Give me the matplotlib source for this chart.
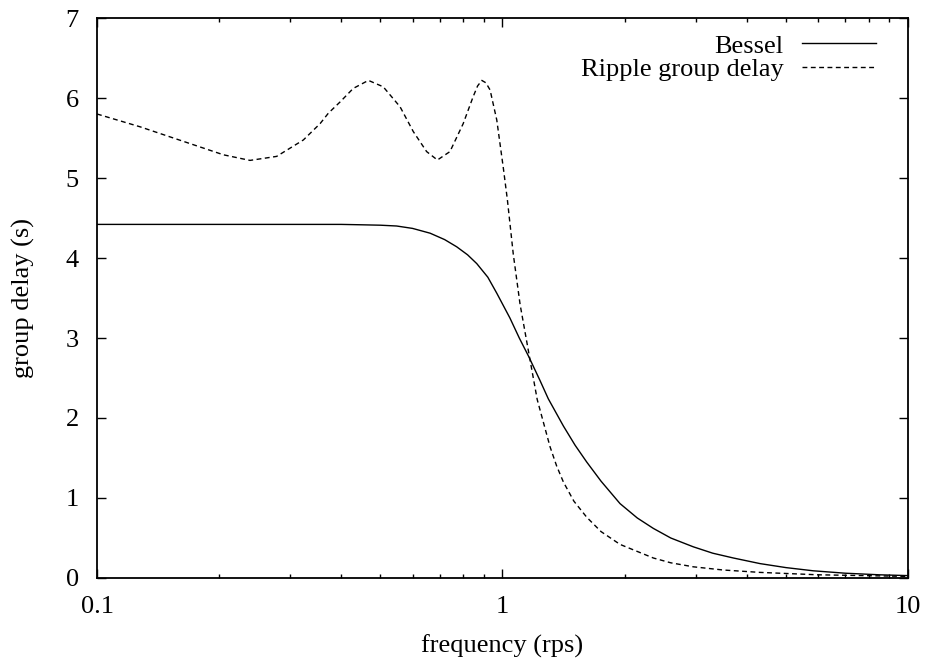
import matplotlib
matplotlib.use("Agg")
import matplotlib.pyplot as plt
from matplotlib.ticker import LogLocator, FixedLocator, NullFormatter

# values
BESSEL_FREQ = [0.1, 0.2, 0.3, 0.4, 0.45, 0.5, 0.548, 0.6, 0.663, 0.72,
               0.771, 0.82, 0.864, 0.92, 0.968, 1.043, 1.10, 1.16, 1.237,
               1.297, 1.413, 1.51, 1.613, 1.75, 1.949, 2.15, 2.355,
               2.6, 2.954, 3.3, 3.71, 4.316, 5.0, 5.84, 7.0, 8.5, 10.0]
BESSEL_DELAY = [4.42, 4.42, 4.42, 4.42, 4.415, 4.41, 4.40, 4.37, 4.31, 4.23,
                4.14, 4.04, 3.93, 3.76, 3.56, 3.25, 3.00, 2.77, 2.47,
                2.24, 1.90, 1.66, 1.45, 1.21, 0.93, 0.75, 0.62,
                0.50, 0.39, 0.31, 0.25, 0.18, 0.13, 0.09, 0.06, 0.04, 0.03]

RIPPLE_FREQ = [0.1, 0.1277, 0.1696, 0.205, 0.2384, 0.2773, 0.3227, 0.355,
               0.372, 0.3975, 0.4285, 0.467, 0.508, 0.559, 0.6026, 0.65,
               0.691, 0.742, 0.80, 0.847, 0.868, 0.889, 0.91, 0.932, 0.968,
               1.005, 1.028, 1.063, 1.105, 1.165, 1.218, 1.31, 1.36, 1.413,
               1.5, 1.613, 1.75, 1.949, 2.355, 2.6, 2.954, 3.5, 4.316, 6.0,
               10.0]
RIPPLE_DELAY = [5.80, 5.64, 5.43, 5.29, 5.22, 5.27, 5.475, 5.68,
                5.81, 5.95, 6.12, 6.22, 6.14, 5.89, 5.58, 5.33,
                5.225, 5.33, 5.68, 6.02, 6.15, 6.22, 6.19, 6.10, 5.725,
                5.12, 4.73, 4.05, 3.42, 2.77, 2.23, 1.64, 1.40, 1.20,
                0.96, 0.76, 0.58, 0.42, 0.25, 0.19, 0.14, 0.10, 0.07, 0.04,
                0.02]

X_TICKS = [0.1, 1, 10]
X_LABELS = ["0.1", "1", "10"]
Y_TICKS = [0, 1, 2, 3, 4, 5, 6, 7]

plt.rcParams["font.family"] = ["Liberation Serif", "DejaVu Serif"]
plt.rcParams["font.size"] = 19

fig = plt.figure(figsize=(9.28, 6.62), dpi=100)
ax = fig.add_axes([97 / 928, 84 / 662, 811 / 928, 560 / 662])

ax.plot(BESSEL_FREQ, BESSEL_DELAY, color="black", lw=1.0, label="Bessel")
ax.plot(RIPPLE_FREQ, RIPPLE_DELAY, color="black", lw=1.0,
        dashes=(3.5, 2.5), label="Ripple group delay")

ax.set_xscale("log")
ax.set_xlim(0.1, 10)
ax.set_ylim(0, 7)
ax.xaxis.set_major_locator(FixedLocator(X_TICKS))
ax.set_xticklabels(X_LABELS)
ax.xaxis.set_minor_locator(LogLocator(base=10, subs=range(2, 10)))
ax.xaxis.set_minor_formatter(NullFormatter())
ax.set_yticks(Y_TICKS)

ax.tick_params(which="both", direction="in", top=True, right=True,
               width=1.0, color="black")
ax.tick_params(which="major", length=6.5)
ax.tick_params(which="minor", length=3.2)
ax.tick_params(axis="x", which="major", pad=13)
ax.tick_params(axis="y", which="major", pad=13)
for sp in ax.spines.values():
    sp.set_linewidth(1.3)

ax.set_xlabel("frequency (rps)", labelpad=12)
ax.set_ylabel("group delay (s)", labelpad=22)

ax.legend(loc="upper right", bbox_to_anchor=(0.9735, 0.99), frameon=False,
          markerfirst=False, handlelength=2.8, handletextpad=0.7,
          labelspacing=0.0, borderaxespad=0.0, fontsize=19)

fig.savefig("out.png", dpi=100)
